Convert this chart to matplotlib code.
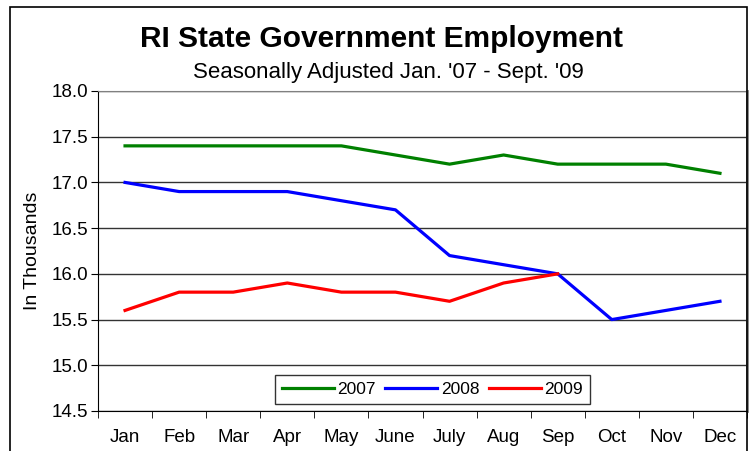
import numpy as np
import matplotlib.pyplot as plt
from matplotlib.patches import Rectangle

plt.rcParams['font.family'] = ['Liberation Sans', 'DejaVu Sans']

months = ['Jan', 'Feb', 'Mar', 'Apr', 'May', 'June', 'July', 'Aug', 'Sep', 'Oct', 'Nov', 'Dec']
emp_2007 = [17.4, 17.4, 17.4, 17.4, 17.4, 17.3, 17.2, 17.3, 17.2, 17.2, 17.2, 17.1]
emp_2008 = [17.0, 16.9, 16.9, 16.9, 16.8, 16.7, 16.2, 16.1, 16.0, 15.5, 15.6, 15.7]
emp_2009 = [15.6, 15.8, 15.8, 15.9, 15.8, 15.8, 15.7, 15.9, 16.0]

W, H = 752, 451
fig = plt.figure(figsize=(W / 100, H / 100), dpi=100)

# outer chart border
fig.patches.append(Rectangle((10 / W, -0.05), 737 / W, 1.05 - 7 / H, transform=fig.transFigure,
                             fill=False, edgecolor='black', linewidth=1.2))

# plot area in pixels: left 98, right 747, top 91, bottom 411
ax = fig.add_axes([98 / W, 1 - 411 / H, 649 / W, 320 / H])

x = np.arange(len(months))
ax.plot(x, emp_2007, color='#008000', linewidth=2.3, label='2007')
ax.plot(x, emp_2008, color='#0000FF', linewidth=2.3, label='2008')
ax.plot(np.arange(len(emp_2009)), emp_2009, color='#FF0000', linewidth=2.3, label='2009')

ax.set_xlim(-0.5, len(months) - 0.5)
ax.set_ylim(14.5, 18.0)
yt = np.arange(14.5, 18.01, 0.5)
ax.set_yticks(yt)
ax.set_yticklabels(['%.1f' % v for v in yt], fontsize=13.5)
ax.yaxis.grid(True, color='#333333', linewidth=1)
ax.set_axisbelow(True)

# month labels centred, tick marks between categories
ax.set_xticks(x)
ax.set_xticklabels(months, fontsize=13.5)
ax.tick_params(axis='x', length=0, pad=13)
ax.set_xticks(np.arange(-0.5, len(months), 1), minor=True)
ax.tick_params(axis='x', which='minor', length=5, color='black')
ax.tick_params(axis='y', length=5, color='black', pad=2)

for side in ['top', 'right']:
    ax.spines[side].set_color('#808080')
ax.spines['right'].set_linewidth(2)
ax.spines['left'].set_color('black')
ax.spines['bottom'].set_color('black')

ax.set_ylabel('In Thousands', fontsize=14, labelpad=8)

leg = ax.legend(loc='center', bbox_to_anchor=(0.515, 0.066), ncol=3, fontsize=12.5,
                frameon=True, fancybox=False, edgecolor='black', handlelength=3.0,
                handletextpad=0.2, columnspacing=0.55, borderpad=0.4, borderaxespad=0)
leg.get_frame().set_linewidth(1)

fig.text(381 / W, 1 - 47 / H, 'RI State Government Employment', ha='center', va='baseline',
         fontsize=21.5, fontweight='bold')
fig.text(388 / W, 1 - 78 / H, "Seasonally Adjusted Jan. '07 - Sept. '09", ha='center',
         va='baseline', fontsize=16)

fig.savefig('out.png', dpi=100)
